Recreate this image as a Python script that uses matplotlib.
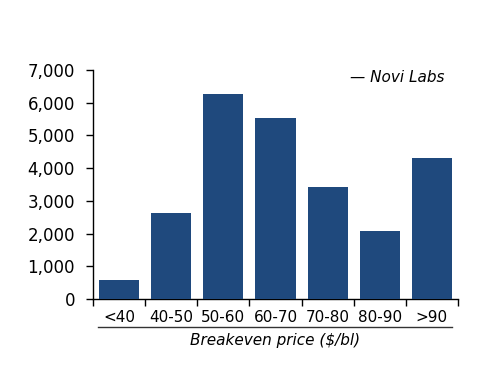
"""
Breakeven price distribution bar chart.
Output: out.png
"""

import matplotlib
matplotlib.use("Agg")
import matplotlib.pyplot as plt
from matplotlib.lines import Line2D
from matplotlib.ticker import FuncFormatter
import numpy as np

# ---------------------------------------------------------------------------
# Data
# ---------------------------------------------------------------------------

categories = ["<40", "40-50", "50-60", "60-70", "70-80", "80-90", ">90"]
volumes    = [570, 2630, 6260, 5540, 3420, 2070, 4310]
y_ticks    = [0, 1000, 2000, 3000, 4000, 5000, 6000, 7000]

# ---------------------------------------------------------------------------
# Style
# ---------------------------------------------------------------------------

BAR   = "#1f497d"
TEXT  = "#000000"

plt.rcParams.update({
    "font.family": "DejaVu Sans",
    "font.size":   11,
    "axes.spines.top":   False,
    "axes.spines.right": False,
})

fig = plt.figure(figsize=(5, 3.86), dpi=100, facecolor="white")
ax = fig.add_axes([0.186, 0.2254, 0.730, 0.5933])

x = np.arange(len(categories))
ax.bar(x, volumes, width=0.77, color=BAR, zorder=3)

ax.set_xlim(-0.5, len(categories) - 0.5)
ax.set_ylim(0, 7000)
ax.set_yticks(y_ticks)
ax.yaxis.set_major_formatter(FuncFormatter(lambda v, p: f"{v:,.0f}"))

# ticks at category boundaries, labels centred under bars
ax.set_xticks(np.arange(len(categories) + 1) - 0.5)
ax.set_xticklabels([])
ax.set_xticks(x, minor=True)
ax.set_xticklabels(categories, minor=True, fontsize=11)
ax.tick_params(axis="x", which="minor", length=0, pad=8)
ax.tick_params(axis="x", which="major", length=5, width=1, direction="out")
ax.tick_params(axis="y", length=5, width=1, direction="out", labelsize=12, pad=8)

for sp in ["left", "bottom"]:
    ax.spines[sp].set_linewidth(1)

# underline below category labels
fig.add_artist(Line2D([98 / 500, 452 / 500], [1 - 327 / 386] * 2,
                      color="#333333", linewidth=1))

fig.text(0.55, 1 - 341 / 386, "Breakeven price ($/bl)", ha="center", va="center",
         fontsize=11, style="italic", color=TEXT)

fig.text(0.795, 1 - 78 / 386, "— Novi Labs", ha="center", va="center",
         fontsize=11, style="italic", color=TEXT)

fig.savefig("out.png", dpi=100, facecolor="white")
